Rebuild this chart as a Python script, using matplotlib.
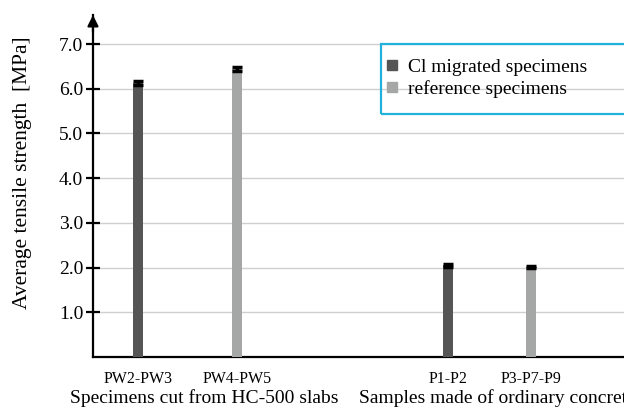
import numpy as np
import matplotlib.pyplot as plt
from matplotlib.patches import Rectangle

plt.rcParams['font.family'] = ['Liberation Serif', 'DejaVu Serif']

labels = ['PW2-PW3', 'PW4-PW5', 'P1-P2', 'P3-P7-P9']
strength = [6.13, 6.44, 2.05, 2.01]
err = [0.05, 0.04, 0.03, 0.03]
kind = ['Cl', 'ref', 'Cl', 'ref']
groups = ['Specimens cut from HC-500 slabs', 'Samples made of ordinary concrete']

pos = [0.45, 1.44, 3.55, 4.38]
group_pos = [1.11, 4.04]
colors = {'Cl': '#555555', 'ref': '#a5a7a7'}

fig = plt.figure(figsize=(6.24, 4.11), dpi=100)
ax = fig.add_axes([0.149, 0.1314, 0.851, 0.832])

for x, v, e, k in zip(pos, strength, err, kind):
    ax.bar(x, v, width=0.10, color=colors[k], zorder=3)
    ax.errorbar(x, v, yerr=e, fmt='none', ecolor='k', elinewidth=2.5,
                capsize=3.6, capthick=2.5, zorder=4)

ax.set_xlim(0, 5.31)
ax.set_ylim(0, 7.65)
ax.set_yticks([1, 2, 3, 4, 5, 6, 7])
ax.set_yticklabels(['%.1f' % t for t in [1, 2, 3, 4, 5, 6, 7]], fontsize=14)
ax.yaxis.grid(True, color='#cfcfcf', lw=1, zorder=0)
ax.tick_params(axis='y', direction='inout', length=10, width=1.6, pad=2)
ax.set_xticks(pos)
ax.set_xticklabels(labels, fontsize=11.5)
ax.tick_params(axis='x', length=0, pad=10)

for s in ['top', 'right']:
    ax.spines[s].set_visible(False)
ax.spines['left'].set_linewidth(1.6)
ax.spines['bottom'].set_linewidth(1.6)
ax.annotate('', xy=(0, 1.0), xytext=(0, 0.95), xycoords='axes fraction',
            arrowprops=dict(arrowstyle='-|>', color='k', lw=1.6,
                            mutation_scale=16, shrinkA=0, shrinkB=0))

for gx, g in zip(group_pos, groups):
    ax.text(gx, -0.095, g, transform=ax.get_xaxis_transform(), ha='center',
            va='top', fontsize=14)

ax.set_ylabel('Average tensile strength  [MPa]', fontsize=15.5)
ax.yaxis.set_label_coords(-0.114, 0.538)

ax.add_patch(Rectangle((0.542, 0.712), 0.6, 0.203, transform=ax.transAxes,
                       fill=False, edgecolor='#22b0dc', lw=1.6, clip_on=False,
                       zorder=5))
h1 = plt.Line2D([], [], ls='none', marker='s', color=colors['Cl'], markersize=7)
h2 = plt.Line2D([], [], ls='none', marker='s', color=colors['ref'], markersize=7)
ax.legend([h1, h2], ['Cl migrated specimens', 'reference specimens'],
          loc='upper left', bbox_to_anchor=(0.515, 0.925), frameon=False,
          fontsize=14, handlelength=0.8, handletextpad=0.45, labelspacing=0.2)

fig.savefig('out.png')
